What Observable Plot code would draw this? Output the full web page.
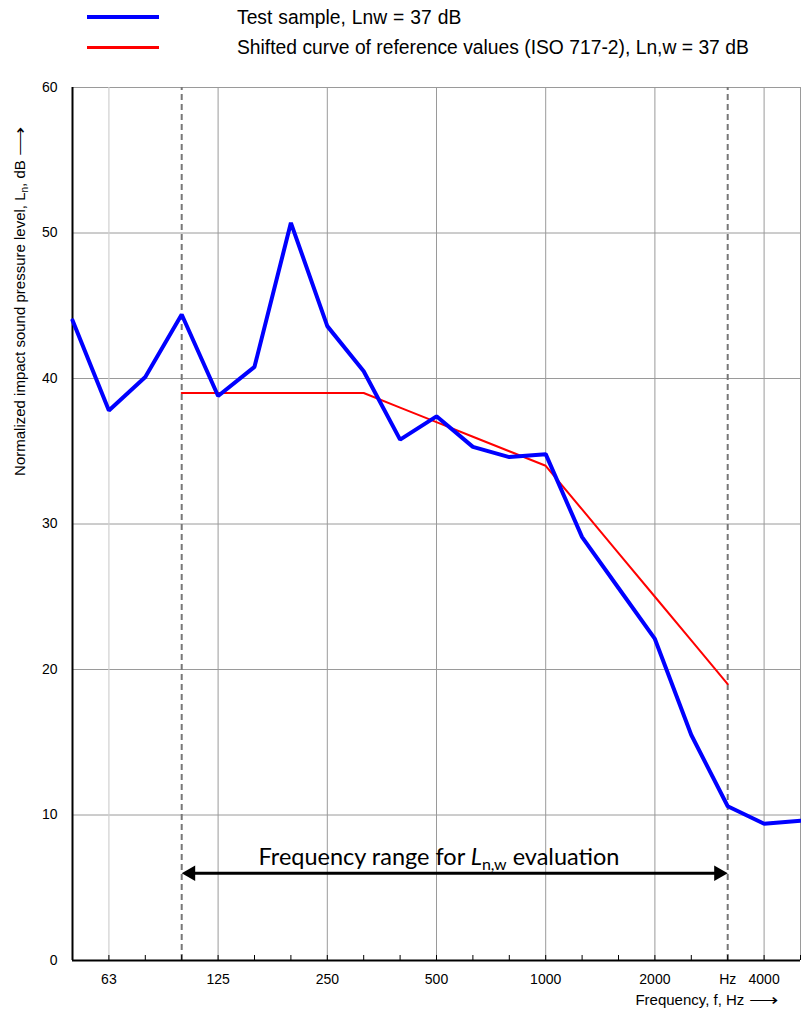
<!DOCTYPE html>
<html><head><meta charset="utf-8">
<script src="https://cdn.jsdelivr.net/npm/d3@7"></script>
<script src="https://cdn.jsdelivr.net/npm/@observablehq/plot@0.6"></script>
<style>
body{margin:0;background:#fff;font-family:"Liberation Sans",Arial,sans-serif;}
#wrap{position:relative;width:801px;height:1014px;overflow:hidden;}
#legend{position:relative;height:70px;}
.lg-line{position:absolute;left:87px;width:72px;}
.lg-text{position:absolute;left:237px;font-size:19.3px;line-height:20px;color:#000;white-space:nowrap;}
#chart svg{display:block;}
</style></head><body>
<div id="wrap">
<div id="legend"></div>
<div id="chart"></div>
</div>
<script>
// 1/3-octave band centre frequencies (Hz)
const bands = ["50","63","80","100","125","160","200","250","315","400","500","630","800","1000","1250","1600","2000","2500","3150","4000","5000"];
// Test sample, normalized impact sound pressure level Ln (dB)
const testSample = [44.0,37.8,40.1,44.4,38.8,40.8,50.7,43.6,40.5,35.8,37.4,35.3,34.6,34.8,29.1,25.6,22.1,15.5,10.6,9.4,9.6];
// Shifted reference curve ISO 717-2 (100 - 3150 Hz)
const refBands = ["100","125","160","200","250","315","400","500","630","800","1000","1250","1600","2000","2500","3150"];
const refShifted = [39,39,39,39,39,39,38,37,36,35,34,31,28,25,22,19];
// axis ticks
const tickBands = ["63","125","250","500","1000","2000","3150","4000"];
const tickTexts = ["63","125","250","500","1000","2000","Hz","4000"];
const yTicks = [0,10,20,30,40,50,60];
const yGrid = [10,20,30,40,50,60];
const majorGridBands = ["125","250","500","1000","2000","4000","5000"];
const lightGridBands = ["63"];
const rangeBands = ["100","3150"];
const arrowLevel = 6;
const rangeLabelBand = "500";
const legendItems = [
  {label:"Test sample, Lnw = 37 dB", color:"#0000ff", h:4, top:15, textTop:7.7, wordSpacing:0.6},
  {label:"Shifted curve of reference values (ISO 717-2), Ln,w = 37 dB", color:"#ff0000", h:3, top:45.5, textTop:37.5, wordSpacing:0}
];
const yLabel = "Normalized impact sound pressure level, Ln, dB ⟶";
const xLabel = "Frequency, f, Hz ⟶";
const rangeLabel = "Frequency range for Ln,w evaluation";

const tickMap = new Map(tickBands.map((b,i)=>[b,tickTexts[i]]));
const testData = bands.map((b,i)=>({band:b, value:testSample[i]}));
const refData = refBands.map((b,i)=>({band:b, value:refShifted[i]}));

// legend
const lg = document.getElementById("legend");
for (const it of legendItems) {
  const l = document.createElement("div");
  l.className = "lg-line";
  l.style.top = it.top + "px"; l.style.height = it.h + "px"; l.style.background = it.color;
  lg.appendChild(l);
  const t = document.createElement("div");
  t.className = "lg-text"; t.style.top = it.textTop + "px"; t.style.wordSpacing = it.wordSpacing + "px";
  t.textContent = it.label;
  lg.appendChild(t);
}

const chart = Plot.plot({
  width: 801,
  height: 944,
  marginTop: 17,
  marginBottom: 54,
  marginLeft: 72,
  marginRight: 1,
  style: {fontFamily: "'Liberation Sans', Arial, sans-serif", background: "#fff"},
  x: {type: "point", domain: bands, padding: 0, round: false},
  y: {domain: [0, 60]},
  marks: [
    Plot.ruleY(yGrid, {stroke: "#9a9a9a", strokeWidth: 1}),
    Plot.ruleX(lightGridBands, {stroke: "#d0d0d0", strokeWidth: 1.2, y1: 0, y2: 60}),
    Plot.ruleX(majorGridBands, {stroke: "#9a9a9a", strokeWidth: 1, y1: 0, y2: 60}),
    Plot.ruleX(rangeBands, {y1: 0, y2: 60, stroke: "#777", strokeWidth: 2, strokeDasharray: "6,4"}),
    // minor ticks on x axis
    Plot.ruleX(bands, {y1: 0, y2: 0, insetBottom: 5, stroke: "#000", strokeWidth: 1}),
    Plot.axisX(bands, {tickSize: 0, tickPadding: 14, fontSize: 14, tickFormat: d => tickMap.get(d) ?? "", label: null}),
    Plot.axisY(yTicks, {tickSize: 0, tickPadding: 15, fontSize: 14, label: null}),
    Plot.ruleY([0], {stroke: "#000", strokeWidth: 2}),
    Plot.ruleX([bands[0]], {y1: 0, y2: 60, stroke: "#000", strokeWidth: 2}),
    Plot.line(refData, {x: "band", y: "value", stroke: "#ff0000", strokeWidth: 2}),
    Plot.line(testData, {x: "band", y: "value", stroke: "#0000ff", strokeWidth: 4, strokeLinejoin: "miter"}),
    // frequency range arrow
    Plot.ruleY([arrowLevel], {x1: () => rangeBands[0], x2: () => rangeBands[1], stroke: "#000", strokeWidth: 3, insetLeft: 10, insetRight: 10}),
    Plot.dot([rangeBands[0]], {x: d => d, y: () => arrowLevel, symbol: "triangle", r: 5.8, fill: "#000", stroke: "none", rotate: -90, dx: 9}),
    Plot.dot([rangeBands[1]], {x: d => d, y: () => arrowLevel, symbol: "triangle", r: 5.8, fill: "#000", stroke: "none", rotate: 90, dx: -9}),
    Plot.text([rangeLabel], {x: () => rangeLabelBand, y: () => arrowLevel, dx: 2.5, dy: -16, text: d => d, fontSize: 23.5, fontFamily: "Lato, 'Open Sans', sans-serif", fill: "#000", textAnchor: "middle"}),
    Plot.text([yLabel], {frameAnchor: "left", rotate: -90, dx: -52, dy: -223, text: d => d, fontSize: 15, fill: "#000", textAnchor: "middle"}),
    Plot.text([xLabel], {frameAnchor: "bottom-right", dx: -22, dy: 44, text: d => d, fontSize: 15, fill: "#000", textAnchor: "end"})
  ]
});
document.getElementById("chart").appendChild(chart);

// rich text: italic L, subscripts, long arrows
const longArrow = '<tspan textLength="30" lengthAdjust="spacingAndGlyphs">⟶</tspan>';
chart.querySelectorAll("text").forEach(t => {
  if (t.textContent === rangeLabel) {
    t.innerHTML = 'Frequency range for <tspan font-style="italic">L</tspan><tspan dy="5" font-size="16">n,w</tspan><tspan dy="-5"> evaluation</tspan>';
  } else if (t.textContent === yLabel) {
    t.innerHTML = 'Normalized impact sound pressure level, L<tspan dy="3" font-size="10">n</tspan><tspan dy="-3">, dB </tspan>' + longArrow;
  } else if (t.textContent === xLabel) {
    t.innerHTML = 'Frequency, f, Hz ' + longArrow;
  }
});
</script>
</body></html>
